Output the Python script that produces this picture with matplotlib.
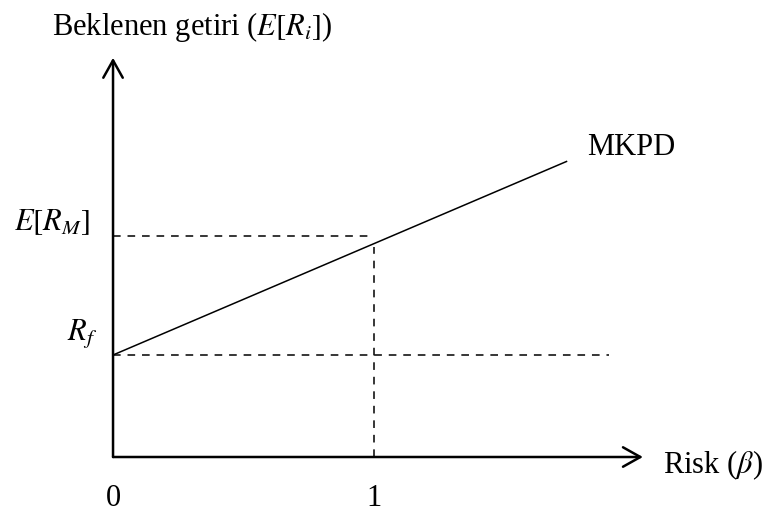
import matplotlib
matplotlib.use("Agg")
import matplotlib.pyplot as plt

plt.rcParams['font.family'] = ['Liberation Serif', 'DejaVu Serif']
plt.rcParams['mathtext.fontset'] = 'stix'

# Security market line (MKPD) values
risk_free = 3.0          # R_f
market_return = 6.5      # E[R_M]
market_beta = 1.0
sml_beta = [0.0, 1.74]
sml_return = [3.0, 8.7]
rf_line_end = 1.90       # where the R_f dashed guide stops
x_axis_end = 2.03
y_axis_end = 11.74
x_tick_values = [0, 1]
x_tick_labels = ['0', '1']

font_size = 22

fig = plt.figure(figsize=(7.69, 5.16), dpi=100)
ax = fig.add_axes([0, 0, 1, 1])
ax.set_xlim(-0.433, 2.513)
ax.set_ylim(-1.735, 13.44)
ax.axis('off')

# axes with open arrow heads
arrow = dict(arrowstyle='->,head_length=1.25,head_width=0.7', lw=1.8,
             color='black', shrinkA=0, shrinkB=0)
ax.annotate('', xy=(x_axis_end, 0), xytext=(0, 0), arrowprops=arrow)
ax.annotate('', xy=(0, y_axis_end), xytext=(0, 0), arrowprops=arrow)

# the market line itself
ax.plot(sml_beta, sml_return, color='black', lw=1.1, solid_capstyle='butt')

# dashed guides
dash = dict(color='black', lw=1.1, linestyle=(0, (5, 4.5)))
ax.plot([0, rf_line_end], [risk_free, risk_free], **dash)
ax.plot([0, market_beta], [market_return, market_return], **dash)
ax.plot([market_beta, market_beta], [0, 6.18], **dash)

# labels
ax.text(-0.234, 12.41, 'Beklenen getiri ($E[R_i]$)', fontsize=font_size,
        ha='left', va='baseline')
ax.text(2.107, -0.47, r'Risk ($\beta$)', fontsize=font_size,
        ha='left', va='baseline')
ax.text(1.816, 8.88, 'MKPD', fontsize=font_size, ha='left', va='baseline')
ax.text(-0.088, 6.68, '$E[R_M]$', fontsize=font_size,
        ha='right', va='baseline')
ax.text(-0.061, 3.44, '$R_f$', fontsize=font_size, ha='right', va='baseline')
for xv, lbl in zip(x_tick_values, x_tick_labels):
    ax.text(xv, -1.44, lbl, fontsize=font_size, ha='center', va='baseline')

fig.savefig('out.png', dpi=100)
